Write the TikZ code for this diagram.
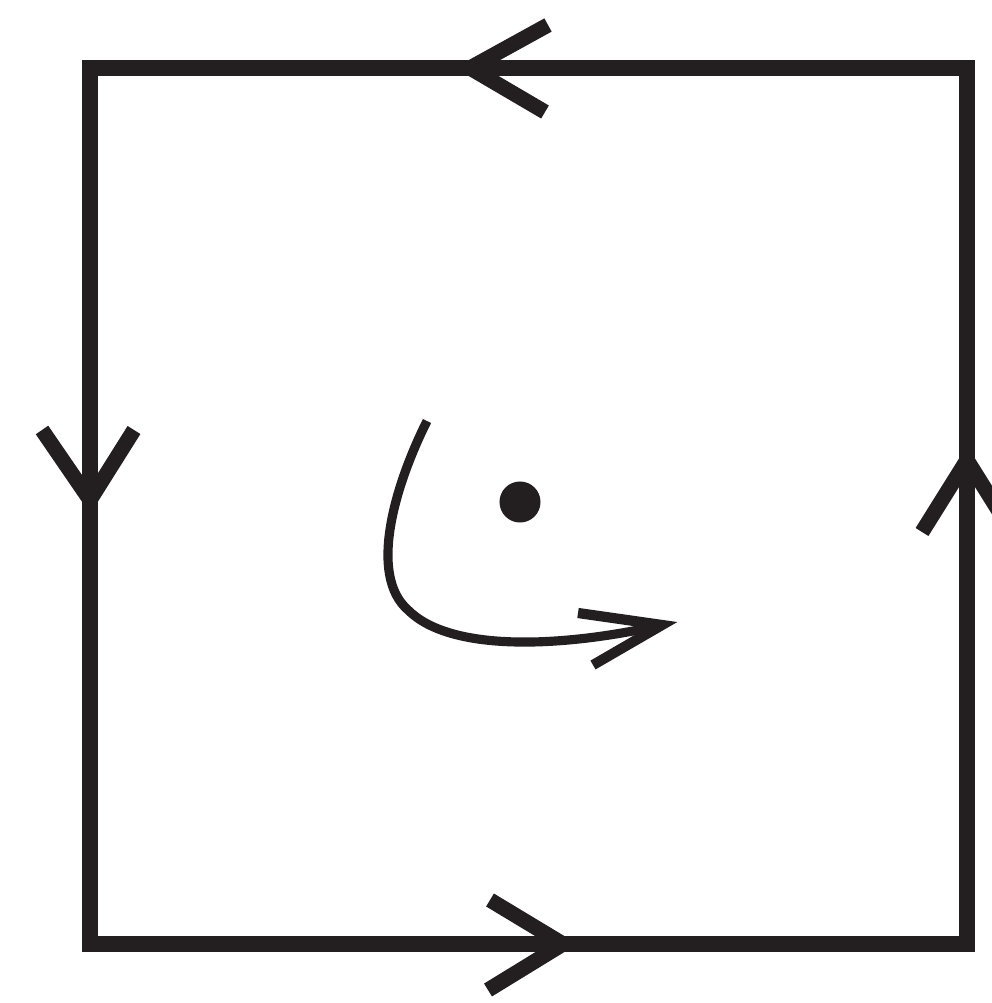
\documentclass[tikz,border=0pt]{standalone}
\definecolor{ink}{RGB}{35,31,32}
\begin{document}
\begin{tikzpicture}[x=0.01cm,y=-0.01cm,
  edge/.style={draw=ink,line width=4.3pt,line cap=butt,line join=miter},
  chev/.style={draw=ink,line width=4.3pt,line cap=butt,line join=miter,miter limit=10},
  flow/.style={draw=ink,line width=2.6pt,line cap=butt},
  flowhead/.style={draw=ink,line width=2.9pt,line cap=butt,line join=miter,miter limit=10}]
\useasboundingbox (0,0) rectangle (992,1003);
\clip (0,0) rectangle (992,1003);
% corners
\coordinate (tl) at (90,68);
\coordinate (tr) at (967,68);
\coordinate (br) at (967,944);
\coordinate (bl) at (90,944);
\draw[edge] (tl) -- (tr) -- (br) -- (bl) -- cycle;
% chevrons
\coordinate (tTip) at (470,68);
\draw[chev] (548,25) -- (tTip) -- (545,112);
\coordinate (lTip) at (90,500);
\draw[chev] (42,430) -- (lTip) -- (134,430);
\coordinate (bTip) at (563,944);
\draw[chev] (490,900) -- (bTip) -- (488,990);
\coordinate (rTip) at (967,460);
\draw[chev] (922,532) -- (rTip) -- (1012,532);
% dot
\node[circle,fill=ink,inner sep=0pt,minimum size=0.41cm] (dot) at (520,502) {};
% rotation arrow
\coordinate (cs) at (427,421);
\coordinate (ce) at (662,625);
\draw[flow] (cs) .. controls (395,485) and (368,575) .. (408,610)
  .. controls (450,652) and (560,648) .. (ce);
\draw[flowhead] (578,613) -- (ce) -- (593,665);
\end{tikzpicture}
\end{document}
